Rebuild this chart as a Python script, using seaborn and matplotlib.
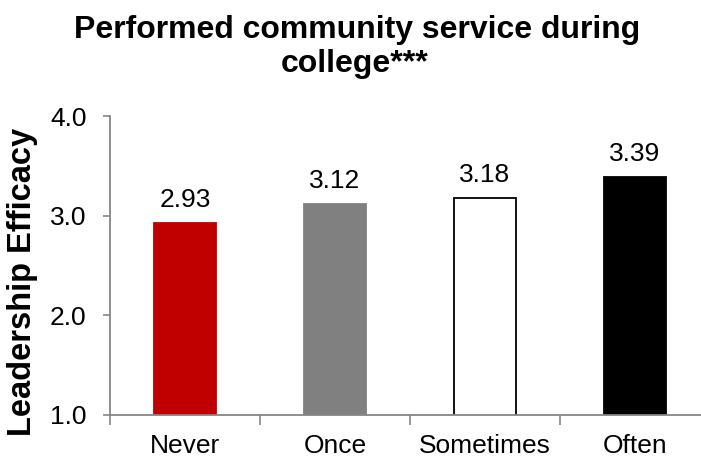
import matplotlib
matplotlib.use("Agg")
import matplotlib.pyplot as plt
import seaborn as sns
import pandas as pd

categories = ["Never", "Once", "Sometimes", "Often"]
values = [2.93, 3.12, 3.18, 3.39]
fill_colors = ["#C00000", "#808080", "#FFFFFF", "#000000"]
edge_colors = ["#C00000", "#808080", "#000000", "#000000"]
y_ticks = [1.0, 2.0, 3.0, 4.0]

sns.set_theme(style="white", rc={
    "text.color": "black",
    "axes.labelcolor": "black",
    "xtick.color": "black",
    "ytick.color": "black",
})
plt.rcParams["font.family"] = ["Liberation Sans", "DejaVu Sans"]

df = pd.DataFrame({"category": categories, "value": values})

fig = plt.figure(figsize=(7.01, 4.57), dpi=100)
ax = fig.add_axes([110 / 701, 1 - 415 / 457, 600 / 701, 299 / 457])

sns.barplot(data=df, x="category", y="value", hue="category",
            palette=fill_colors, saturation=1, legend=False, width=0.41, ax=ax)
for patch, ec in zip(ax.patches, edge_colors):
    patch.set_edgecolor(ec)
    patch.set_linewidth(1.3)

tick_gray = "#868686"
ax.set_ylim(1.0, 4.0)
ax.set_yticks(y_ticks)
ax.set_yticklabels([f"{t:.1f}" for t in y_ticks], fontsize=19)
ax.set_xlim(-0.5, 3.5)
ax.set_xticks([0, 1, 2, 3])
ax.set_xticklabels(categories, fontsize=19)
ax.set_xlabel("")
ax.set_ylabel("")

# category separators on the x axis
ax.set_xticks([-0.5, 0.5, 1.5, 2.5, 3.5], minor=True)
ax.tick_params(axis="x", which="major", length=0, pad=14, bottom=False)
ax.tick_params(axis="x", which="minor", length=7, width=1.2, color=tick_gray,
               direction="out", bottom=True)
ax.tick_params(axis="y", which="major", length=5, width=1.2, color=tick_gray,
               direction="out", pad=12, left=True, labelcolor="black")

for side in ["top", "right"]:
    ax.spines[side].set_visible(False)
for side in ["left", "bottom"]:
    ax.spines[side].set_color(tick_gray)
    ax.spines[side].set_linewidth(1.3)

for i, v in enumerate(values):
    ax.text(i, v + 0.16, f"{v:.2f}", ha="center", va="baseline", fontsize=19)

fig.text(23 / 701, 1 - 282 / 457, "Leadership Efficacy", rotation=90,
         ha="center", va="center", fontsize=23.5, fontweight="bold")
fig.text(357 / 701, 1 - 38 / 457, "Performed community service during",
         ha="center", va="baseline", fontsize=23, fontweight="bold")
fig.text(355 / 701, 1 - 72 / 457, "college***",
         ha="center", va="baseline", fontsize=23, fontweight="bold")

fig.savefig("out.png", dpi=100)
